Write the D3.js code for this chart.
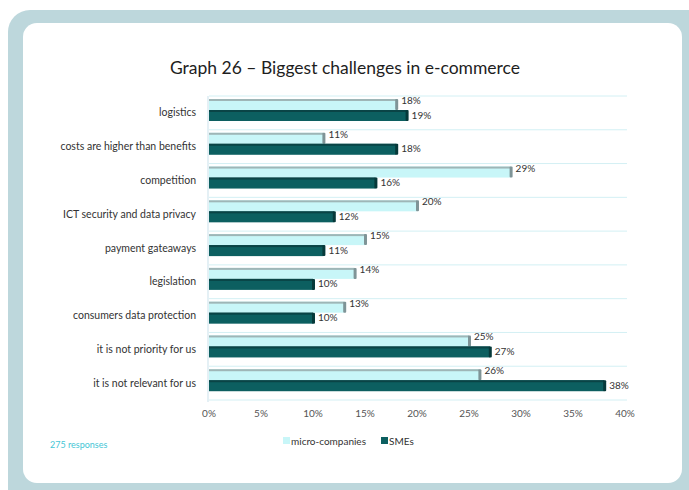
<!DOCTYPE html>
<html>
<head>
<meta charset="utf-8">
<script src="https://cdn.jsdelivr.net/npm/d3@7"></script>
<style>
  html, body { margin: 0; padding: 0; background: #ffffff; }
  svg { display: block; font-family: Lato, "Open Sans", sans-serif; }
</style>
</head>
<body>
<svg id="chart" width="689" height="490"></svg>
<script>
const categories = [
  "logistics",
  "costs are higher than benefits",
  "competition",
  "ICT security and data privacy",
  "payment gateaways",
  "legislation",
  "consumers data protection",
  "it is not priority for us",
  "it is not relevant for us"
];
const microCompanies = [18, 11, 29, 20, 15, 14, 13, 25, 26];
const smes = [19, 18, 16, 12, 11, 10, 10, 27, 38];
const xTicks = [0, 5, 10, 15, 20, 25, 30, 35, 40];
const seriesNames = ["micro-companies", "SMEs"];

const svg = d3.select("#chart");

// frame and white card
svg.append("rect").attr("x", 8).attr("y", 10).attr("width", 720).attr("height", 520)
  .attr("rx", 22).attr("fill", "#bdd7dc");
svg.append("rect").attr("x", 23).attr("y", 23).attr("width", 659).attr("height", 460)
  .attr("rx", 14).attr("fill", "#ffffff");

svg.append("text").attr("x", 345).attr("y", 74).attr("text-anchor", "middle")
  .attr("font-size", 17.5).attr("fill", "#1e1e1e").text("Graph 26 – Biggest challenges in e-commerce");

const x = d3.scaleLinear().domain([0, 40]).range([209, 625]);
const y = d3.scaleBand().domain(categories).range([96, 400]);
const inner = d3.scaleBand().domain(seriesNames).range([3, 25]);

// horizontal separators between categories
const seps = categories.map(c => y(c)).concat([y.range()[1]]);
svg.append("g").selectAll("line").data(seps).join("line")
  .attr("x1", x(0)).attr("x2", x(40) + 2)
  .attr("y1", d => d).attr("y2", d => d)
  .attr("stroke", "#d3f0f4").attr("stroke-width", 1);
svg.append("line").attr("x1", x(0) - 1).attr("x2", x(0) - 1).attr("y1", 96).attr("y2", 402)
  .attr("stroke", "#d3e6ee").attr("stroke-width", 1.2);

// category axis labels
svg.append("g").selectAll("text").data(categories).join("text")
  .attr("x", 196).attr("y", d => y(d) + y.bandwidth() / 2 + 3.5)
  .attr("text-anchor", "end").attr("font-size", 10.5).attr("fill", "#333")
  .text(d => d);

const series = [
  { name: "micro-companies", values: microCompanies, fill: "#c8f6f8", edge: "#9eb6b7", end: "#7f9497", dy: -1.5 },
  { name: "SMEs", values: smes, fill: "#0c5f60", edge: "#0a4446", end: "#06393a", dy: 2 }
];

series.forEach(s => {
  const g = svg.append("g");
  const rows = categories.map((c, i) => ({ c, v: s.values[i] }));
  const by = d => y(d.c) + inner(s.name);
  const bh = inner.bandwidth();
  g.selectAll("rect.bar").data(rows).join("rect")
    .attr("x", x(0)).attr("y", by)
    .attr("width", d => x(d.v) - x(0)).attr("height", bh)
    .attr("fill", s.fill);
  // top edge
  g.selectAll("rect.top").data(rows).join("rect")
    .attr("x", x(0)).attr("y", by)
    .attr("width", d => x(d.v) - x(0)).attr("height", 2)
    .attr("fill", s.edge);
  // right end face
  g.selectAll("rect.end").data(rows).join("rect")
    .attr("x", d => x(d.v) - 1).attr("y", by)
    .attr("width", 3).attr("height", bh)
    .attr("rx", 1)
    .attr("fill", s.end);
  // value labels
  g.selectAll("text").data(rows).join("text")
    .attr("x", d => x(d.v) + 5).attr("y", d => by(d) + bh / 2 + 1 + s.dy)
    .attr("font-size", 10).attr("fill", "#333")
    .text(d => d.v + "%");
});

// x axis tick labels
svg.append("g").selectAll("text").data(xTicks).join("text")
  .attr("x", d => x(d)).attr("y", 417).attr("text-anchor", "middle")
  .attr("font-size", 10).attr("fill", "#555").text(d => d + "%");

// legend
const legend = svg.append("g");
const lx = [283, 381];
series.forEach((s, i) => {
  legend.append("rect").attr("x", lx[i]).attr("y", 437).attr("width", 7).attr("height", 7).attr("fill", s.fill);
  legend.append("text").attr("x", lx[i] + 8).attr("y", 444.5).attr("font-size", 10)
    .attr("fill", "#333").text(s.name);
});

svg.append("text").attr("x", 50).attr("y", 448).attr("font-size", 9)
  .attr("fill", "#45c6d6").text("275 responses");
</script>
</body>
</html>
